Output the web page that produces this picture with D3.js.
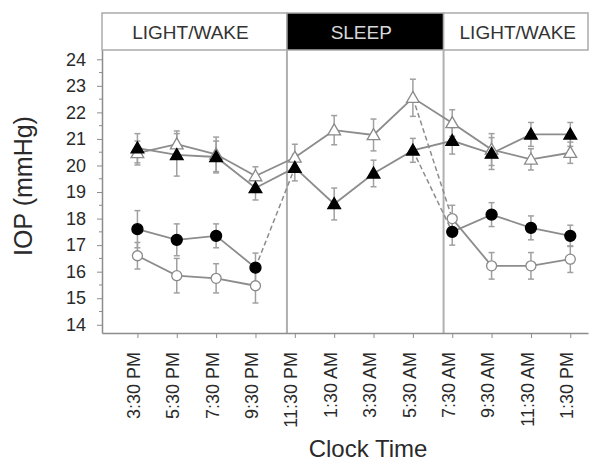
<!DOCTYPE html>
<html>
<head>
<meta charset="utf-8">
<script src="https://cdnjs.cloudflare.com/ajax/libs/d3/7.8.5/d3.min.js"></script>
<style>
  body { margin: 0; background: #fff; }
  text { font-family: Arial, 'Liberation Sans', sans-serif; fill: #2a2a2a; }
</style>
</head>
<body>
<div class="graph-container"></div>
<script>
// clock times on the x axis
var timeLabels = ['3:30 PM', '5:30 PM', '7:30 PM', '9:30 PM', '11:30 PM', '1:30 AM',
  '3:30 AM', '5:30 AM', '7:30 AM', '9:30 AM', '11:30 AM', '1:30 PM'];

var yTicks = [14, 15, 16, 17, 18, 19, 20, 21, 22, 23, 24];

// light / dark phases, in x index units
var phaseLabels = ['LIGHT/WAKE', 'SLEEP', 'LIGHT/WAKE'];
var phaseStart = [-0.9, 3.8, 7.78];
var phaseEnd = [3.8, 7.78, 11.45];

// series values (mmHg) and error bars, null = not measured
var filledTriangle = [20.65, 20.4, 20.32, 19.15, 19.92, 18.55, 19.7, 20.57, 20.93, 20.45, 21.17, 21.17];
var filledTriangleErr = [0.55, 0.8, 0.6, 0.45, 0.5, 0.6, 0.5, 0.45, 0.5, 0.6, 0.45, 0.45];
var openTriangle = [20.47, 20.8, 20.42, 19.6, 20.3, 21.33, 21.15, 22.55, 21.6, 20.6, 20.23, 20.48];
var openTriangleErr = [0.45, 0.5, 0.65, 0.35, 0.5, 0.55, 0.6, 0.7, 0.5, 0.6, 0.4, 0.4];
var filledCircle = [17.6, 17.2, 17.35, 16.15, null, null, null, null, 17.5, 18.15, 17.65, 17.35];
var filledCircleErr = [0.7, 0.6, 0.45, 0.55, null, null, null, null, 0.5, 0.45, 0.45, 0.4];
var openCircle = [16.6, 15.85, 15.75, 15.47, null, null, null, null, 18.0, 16.22, 16.22, 16.47];
var openCircleErr = [0.5, 0.65, 0.55, 0.65, null, null, null, null, 0.5, 0.5, 0.5, 0.5];

// dashed links between series at the phase changes
var dashedLinks = [
  ['filledCircle', 3, 'filledTriangle', 4],
  ['openTriangle', 7, 'openCircle', 8],
  ['filledTriangle', 7, 'filledCircle', 8]
];

var svgWidth = 595;
var svgHeight = 465;
var plotLeft = 102;
var plotRight = 588;
var plotTop = 50;
var plotBottom = 333;
var bannerTop = 13;
var lineColor = '#8c8c8c';

var series = {
  filledTriangle: { values: filledTriangle, err: filledTriangleErr, shape: 'triangle', filled: true },
  openTriangle: { values: openTriangle, err: openTriangleErr, shape: 'triangle', filled: false },
  filledCircle: { values: filledCircle, err: filledCircleErr, shape: 'circle', filled: true },
  openCircle: { values: openCircle, err: openCircleErr, shape: 'circle', filled: false }
};
var drawOrder = ['openCircle', 'filledCircle', 'openTriangle', 'filledTriangle'];

var svg = d3.select('.graph-container').append('svg')
  .attr('width', svgWidth)
  .attr('height', svgHeight);

var xScale = d3.scaleLinear()
  .domain([-0.9, 11.45])
  .range([plotLeft, plotRight]);

var yScale = d3.scaleLinear()
  .domain([13.69, 24.35])
  .range([plotBottom, plotTop]);

// banner with the phases
phaseLabels.forEach(function(label, i) {
  var x0 = xScale(phaseStart[i]);
  var x1 = xScale(phaseEnd[i]);
  var dark = label === 'SLEEP';
  svg.append('rect')
    .attr('x', x0)
    .attr('y', bannerTop)
    .attr('width', x1 - x0)
    .attr('height', plotTop - bannerTop)
    .attr('fill', dark ? '#000' : '#fff')
    .attr('stroke', '#aaa')
    .attr('stroke-width', 1.5);
  svg.append('text')
    .attr('x', (x0 + x1) / 2 - (i === 2 ? -2 : 4))
    .attr('y', (bannerTop + plotTop) / 2 + 7)
    .style('text-anchor', 'middle')
    .style('font-size', '19px')
    .style('fill', dark ? '#d8d8d8' : '#333')
    .text(label);
});

// vertical lines where lights go off / on
svg.selectAll('.phase-line')
  .data(phaseStart.slice(1))
  .enter()
  .append('line')
  .attr('class', 'phase-line')
  .attr('x1', function(d) { return xScale(d); })
  .attr('x2', function(d) { return xScale(d); })
  .attr('y1', plotTop)
  .attr('y2', plotBottom)
  .attr('stroke', '#b0b0b0')
  .attr('stroke-width', 2);

// y axis
var yAxis = d3.axisLeft(yScale)
  .tickValues(yTicks)
  .tickSize(5)
  .tickSizeOuter(0);

var yAxisG = svg.append('g')
  .attr('transform', 'translate(' + plotLeft + ',0)')
  .call(yAxis);
yAxisG.select('.domain').attr('stroke', lineColor).attr('stroke-width', 1.5);
yAxisG.selectAll('.tick line').attr('stroke', lineColor);
yAxisG.selectAll('.tick text')
  .attr('x', -16)
  .style('font-size', '18px')
  .style('font-family', 'Arial, Liberation Sans, sans-serif')
  .attr('fill', '#333');

// minor ticks every half unit
svg.append('g')
  .selectAll('line')
  .data(yTicks.slice(1).map(function(d) { return d - 0.5; }))
  .enter()
  .append('line')
  .attr('x1', plotLeft)
  .attr('x2', plotLeft - 3)
  .attr('y1', function(d) { return yScale(d); })
  .attr('y2', function(d) { return yScale(d); })
  .attr('stroke', lineColor);

// x axis
var xAxis = d3.axisBottom(xScale)
  .tickValues(d3.range(timeLabels.length))
  .tickFormat(function(d) { return timeLabels[d]; })
  .tickSize(5)
  .tickSizeOuter(0);

var xAxisG = svg.append('g')
  .attr('transform', 'translate(0,' + plotBottom + ')')
  .call(xAxis);
xAxisG.select('.domain').attr('stroke', lineColor).attr('stroke-width', 1.5);
xAxisG.selectAll('.tick line').attr('stroke', lineColor);
xAxisG.selectAll('.tick text')
  .attr('transform', 'rotate(-90)')
  .attr('x', -19)
  .attr('y', 0)
  .attr('dy', '0.12em')
  .style('text-anchor', 'end')
  .style('font-size', '18px')
  .style('font-family', 'Arial, Liberation Sans, sans-serif')
  .attr('fill', '#333');

// axis titles
svg.append('text')
  .attr('x', 368)
  .attr('y', 457)
  .style('text-anchor', 'middle')
  .style('font-size', '24px')
  .text('Clock Time');

svg.append('text')
  .attr('transform', 'translate(32,186) rotate(-90)')
  .style('text-anchor', 'middle')
  .style('font-size', '25px')
  .text('IOP (mmHg)');

// dashed links
dashedLinks.forEach(function(link) {
  svg.append('line')
    .attr('x1', xScale(link[1]))
    .attr('y1', yScale(series[link[0]].values[link[1]]))
    .attr('x2', xScale(link[3]))
    .attr('y2', yScale(series[link[2]].values[link[3]]))
    .attr('stroke', lineColor)
    .attr('stroke-width', 1.5)
    .attr('stroke-dasharray', '5,3');
});

var line = d3.line()
  .defined(function(d) { return d !== null; })
  .x(function(d, i) { return xScale(i); })
  .y(function(d) { return yScale(d); });

// solid series lines
drawOrder.forEach(function(key) {
  svg.append('path')
    .datum(series[key].values)
    .attr('d', line)
    .attr('fill', 'none')
    .attr('stroke', lineColor)
    .attr('stroke-width', 1.8);
});

// error bars
drawOrder.forEach(function(key) {
  var s = series[key];
  var pts = s.values.map(function(v, i) { return { i: i, v: v, e: s.err[i] }; })
    .filter(function(d) { return d.v !== null; });
  var g = svg.append('g').attr('stroke', '#a0a0a0').attr('stroke-width', 1.5);
  pts.forEach(function(d) {
    var x = xScale(d.i);
    var yTop = yScale(d.v + d.e);
    var yBot = yScale(d.v - d.e);
    g.append('line').attr('x1', x).attr('x2', x).attr('y1', yTop).attr('y2', yBot);
    g.append('line').attr('x1', x - 3).attr('x2', x + 3).attr('y1', yTop).attr('y2', yTop);
    g.append('line').attr('x1', x - 3).attr('x2', x + 3).attr('y1', yBot).attr('y2', yBot);
  });
});

// markers
var triangle = d3.symbol().type(d3.symbolTriangle).size(70);
drawOrder.forEach(function(key) {
  var s = series[key];
  var pts = s.values.map(function(v, i) { return { i: i, v: v }; })
    .filter(function(d) { return d.v !== null; });
  var marks;
  if (s.shape === 'circle') {
    marks = svg.selectAll('.m-' + key)
      .data(pts)
      .enter()
      .append('circle')
      .attr('cx', function(d) { return xScale(d.i); })
      .attr('cy', function(d) { return yScale(d.v); })
      .attr('r', s.filled ? 5.5 : 5);
  } else {
    marks = svg.selectAll('.m-' + key)
      .data(pts)
      .enter()
      .append('path')
      .attr('d', triangle)
      .attr('transform', function(d) {
        return 'translate(' + xScale(d.i) + ',' + (yScale(d.v) + 1) + ')';
      });
  }
  marks.attr('class', 'm-' + key)
    .attr('fill', s.filled ? '#000' : '#fff')
    .attr('stroke', s.filled ? '#000' : '#8a8a8a')
    .attr('stroke-width', 1.3);
});
</script>
</body>
</html>
